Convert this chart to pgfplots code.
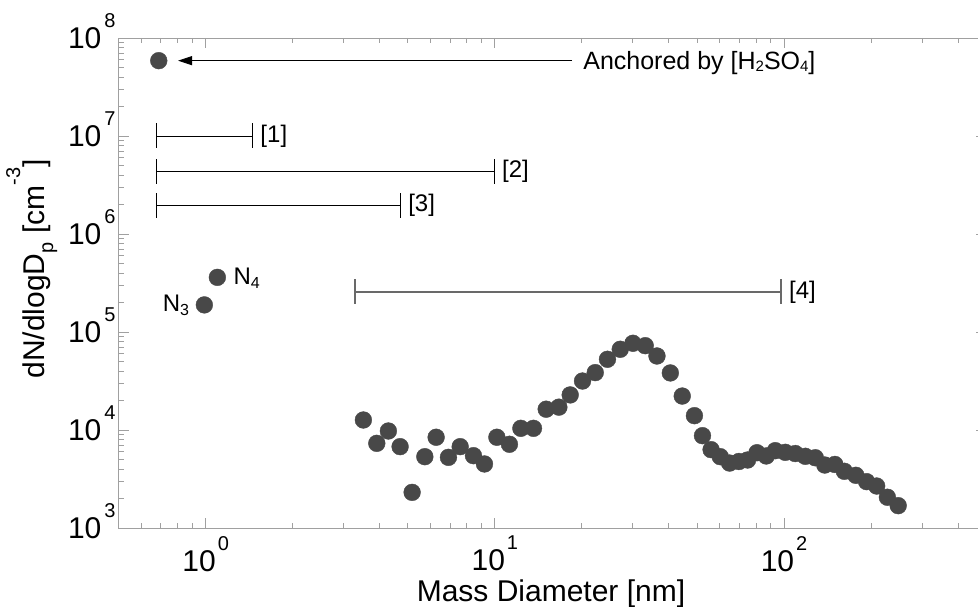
\documentclass[border=0pt]{standalone}
\usepackage{fontspec}
\setmainfont{Liberation Sans}
\usepackage{pgfplots}
\pgfplotsset{compat=1.18}
\usetikzlibrary{arrows.meta}
\definecolor{axgray}{RGB}{160,160,160}
\definecolor{mkgray}{RGB}{72,72,72}
\definecolor{bargray}{RGB}{105,105,105}
\newcommand{\xtl}[1]{10\kern2pt\raisebox{21pt}{\fontsize{20}{20}\selectfont #1}}
\newcommand{\ytl}[1]{10\kern3pt\smash{\raisebox{21pt}{\fontsize{20}{20}\selectfont #1}}}
\begin{document}
\begin{tikzpicture}
\begin{axis}[
  scale only axis, width=867.4pt, height=490pt,
  xmode=log, ymode=log,
  xmin=0.5, xmax=500, ymin=1e3, ymax=1e8,
  clip=false,
  axis line style={axgray, line width=0.9pt},
  tick style={axgray, line width=0.9pt},
  tick align=inside,
  major tick length=10pt, minor tick length=5pt,
  xtick={1,10,100},
  xticklabels={\xtl{0},\xtl{1},\xtl{2}},
  minor xtick={0.6,0.7,0.8,0.9,2,3,4,5,6,7,8,9,20,30,40,50,60,70,80,90,200,300,400,500},
  ytick={1e3,1e4,1e5,1e6,1e7,1e8},
  yticklabels={\ytl{3},\ytl{4},\ytl{5},\ytl{6},\ytl{7},\ytl{8}},
  minor ytick={2e3,3e3,4e3,5e3,6e3,7e3,8e3,9e3,2e4,3e4,4e4,5e4,6e4,7e4,8e4,9e4,2e5,3e5,4e5,5e5,6e5,7e5,8e5,9e5,2e6,3e6,4e6,5e6,6e6,7e6,8e6,9e6,2e7,3e7,4e7,5e7,6e7,7e7,8e7,9e7},
  xticklabel style={font=\fontsize{30}{36}\selectfont, inner sep=0pt, anchor=north, yshift=-8pt},
  yticklabel style={font=\fontsize{30}{36}\selectfont, inner sep=0pt, anchor=east, xshift=-3pt},
  xlabel={Mass Diameter [nm]},
  ylabel={dN/dlogD\raisebox{-9pt}{\fontsize{20}{20}\selectfont p} [cm\raisebox{24pt}{\fontsize{20}{20}\selectfont -3}]},
  every axis x label/.style={at={(axis description cs:0.4984,-0.1504)}, anchor=base, font=\fontsize{30}{36}\selectfont},
  every axis y label/.style={at={(axis description cs:-0.0861,0.5286)}, anchor=base, rotate=90, font=\fontsize{30}{36}\selectfont},
]
% main size distribution
\addplot[only marks, mark=*, mark size=8.4pt, mark options={fill=mkgray, draw=mkgray}] table {
x y
3.51 1.265e4
3.905 7.31e3
4.283 9.77e3
4.701 6.76e3
5.174 2.31e3
5.725 5.34e3
6.265 8.43e3
6.909 5.26e3
7.586 6.76e3
8.433 5.47e3
9.204 4.50e3
10.16 8.43e3
11.23 7.15e3
12.30 1.04e4
13.60 1.04e4
15.05 1.63e4
16.65 1.71e4
18.22 2.28e4
20.10 3.16e4
22.24 3.85e4
24.52 5.27e4
27.14 6.66e4
30.03 7.67e4
33.12 7.25e4
36.36 5.69e4
40.44 3.82e4
44.47 2.22e4
49.00 1.40e4
52.24 8.75e3
55.95 6.30e3
60.20 5.34e3
64.84 4.60e3
69.87 4.77e3
74.82 4.94e3
80.64 5.86e3
86.85 5.43e3
93.30 6.15e3
101.0 5.92e3
109.4 5.75e3
118.5 5.39e3
128.3 5.21e3
138.4 4.39e3
149.9 4.45e3
161.7 3.79e3
177.2 3.45e3
193.1 2.97e3
209.2 2.68e3
227.8 2.06e3
248.3 1.69e3
};
% anchored point and N3, N4
\addplot[only marks, mark=*, mark size=8.4pt, mark options={fill=mkgray, draw=mkgray}] coordinates {(0.688,5.87e7) (0.989,1.89e5) (1.097,3.61e5)};
% ranges
\addplot[black, line width=0.9pt, mark=|, mark size=12.5pt] coordinates {(0.677,1.0e7) (1.449,1.0e7)};
\addplot[black, line width=0.9pt, mark=|, mark size=12.5pt] coordinates {(0.677,4.32e6) (9.93,4.32e6)};
\addplot[black, line width=0.9pt, mark=|, mark size=12.5pt] coordinates {(0.677,1.945e6) (4.70,1.945e6)};
\addplot[bargray, line width=1.3pt, mark=|, mark size=12.5pt] coordinates {(3.28,2.56e5) (97.6,2.56e5)};
\node[anchor=west, inner sep=0pt, xshift=8pt, font=\fontsize{24}{28}\selectfont] at (axis cs:1.449,1.0e7) {[1]};
\node[anchor=west, inner sep=0pt, xshift=8pt, font=\fontsize{24}{28}\selectfont] at (axis cs:9.93,4.32e6) {[2]};
\node[anchor=west, inner sep=0pt, xshift=8pt, font=\fontsize{24}{28}\selectfont] at (axis cs:4.70,1.945e6) {[3]};
\node[anchor=west, inner sep=0pt, xshift=8pt, font=\fontsize{24}{28}\selectfont] at (axis cs:97.6,2.56e5) {[4]};
\draw[-{Triangle[length=14pt,width=9pt]}, line width=0.9pt, black] (axis cs:18.49,5.87e7) -- (axis cs:0.802,5.87e7);
\node[anchor=base west, inner sep=0pt, yshift=-9.3pt, font=\fontsize{25}{30}\selectfont] at (axis cs:20.2,5.87e7) {Anchored by [H\raisebox{-2pt}{\fontsize{15}{15}\selectfont 2}SO\raisebox{-2pt}{\fontsize{15}{15}\selectfont 4}]};
\node[anchor=base west, inner sep=0pt, xshift=16pt, yshift=-7pt, font=\fontsize{24}{28}\selectfont] at (axis cs:1.097,3.61e5) {N\raisebox{-4pt}{\fontsize{16}{16}\selectfont 4}};
\node[anchor=base east, inner sep=0pt, xshift=-15pt, yshift=-7pt, font=\fontsize{24}{28}\selectfont] at (axis cs:0.989,1.89e5) {N\raisebox{-4pt}{\fontsize{16}{16}\selectfont 3}};
\end{axis}
\pgfresetboundingbox
\path[use as bounding box] (-118.7pt,-79pt) rectangle (859.3pt,528pt);
\end{tikzpicture}
\end{document}
